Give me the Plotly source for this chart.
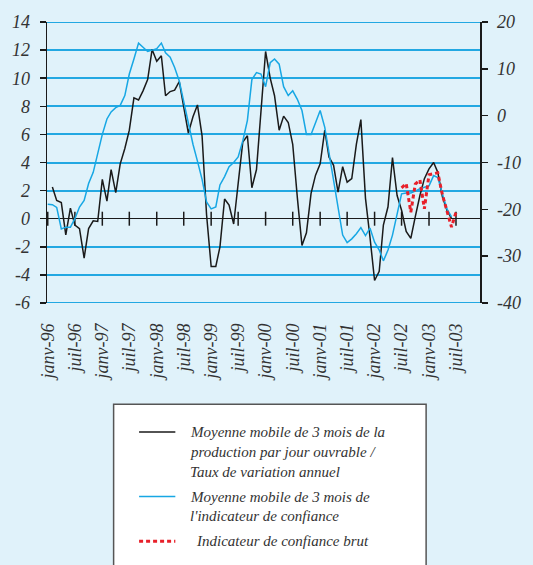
import pandas as pd
import plotly.graph_objects as go

# ---------------- data ----------------
months = pd.date_range("1996-01-01", periods=91, freq="MS")  # janv-96 .. juil-03

# Production (3-month moving average, annual growth rate, %), Feb-96 .. Jun-03 -> left axis
production = [
    2.26, 1.3, 1.15, -1.15, 0.75, -0.45, -0.7, -2.8, -0.7, -0.15, -0.2,
    2.8, 1.25, 3.5, 1.85, 3.9, 5.0, 6.3, 8.6, 8.45, 9.1, 9.9, 12.05,
    11.2, 11.6, 8.75, 9.05, 9.15, 9.75, 7.9, 6.1, 7.25, 8.1, 5.9, 0.3,
    -3.4, -3.4, -2.0, 1.4, 0.97, -0.38, 2.5, 5.45, 5.9, 2.2, 3.5, 7.7,
    11.9, 10.0, 8.75, 6.3, 7.3, 6.85, 5.3, 1.5, -1.9, -1.0, 1.8, 3.1,
    3.9, 6.3, 4.4, 3.8, 1.9, 3.7, 2.6, 2.85, 5.3, 7.05, 1.45, -1.3,
    -4.4, -3.75, -0.45, 0.85, 4.35, 1.65, 0.6, -0.9, -1.4, 0.15, 1.65,
    2.85, 3.55, 4.0, 3.3, 1.55, 0.6, 0.0,
]
production_dates = months[1:1 + len(production)]

# Confidence indicator, 3-month moving average, Jan-96 .. Jun-03 -> right axis
confidence_ma = [
    -18.9, -19.0, -19.6, -24.2, -23.8, -23.8, -22.0, -19.5, -18.1, -14.5,
    -12.1, -7.8, -4.0, -0.7, 0.8, 1.7, 2.2, 4.3, 8.9, 12.1,
    15.5, 14.6, 13.7, 14.0, 14.3, 15.5, 13.4, 12.5, 10.3, 7.4,
    2.9, -1.9, -6.1, -9.7, -13.6, -18.4, -19.9, -19.5, -14.8, -13.0,
    -10.9, -10.0, -8.8, -5.4, -1.0, 7.7, 9.2, 8.9, 6.2, 11.3,
    12.1, 11.0, 6.2, 4.3, 5.3, 3.5, 1.1, -4.0, -4.0, -1.5,
    1.1, -2.5, -7.8, -14.5, -19.5, -25.5, -27.1, -26.3, -25.2, -23.9,
    -25.6, -24.0, -27.0, -28.7, -31.0, -28.7, -25.5, -21.3, -16.7, -16.5,
    -16.5, -16.1, -15.6, -15.3, -15.0, -12.8, -13.2, -16.7, -19.9, -21.6,
]
confidence_ma_dates = months[0:len(confidence_ma)]

# Raw confidence indicator, Jul-02 .. Jul-03 -> right axis
confidence_raw = [-15.4, -14.5, -20.6, -14.6, -13.7, -19.9, -12.6, -12.4,
                  -12.2, -16.9, -20.2, -23.8, -20.6]
confidence_raw_dates = months[78:78 + len(confidence_raw)]

# x tick labels
x_tick_dates = months[::6]
x_tick_labels = ["janv-96", "juil-96", "janv-97", "juil-97", "janv-98", "juil-98",
                 "janv-99", "juil-99", "janv-00", "juil-00", "janv-01", "juil-01",
                 "janv-02", "juil-02", "janv-03", "juil-03"]

left_ticks = [14, 12, 10, 8, 6, 4, 2, 0, -2, -4, -6]
left_labels = ["14", "12", "10", "8", "6", "4", "2", "0", "-2", "-4", "-6"]
right_ticks = [20, 10, 0, -10, -20, -30, -40]
right_labels = ["20", "10", "0", "-10", "-20", "-30", "-40"]

legend_names = [
    ["Moyenne mobile de 3 mois de la", "production par jour ouvrable /",
     "Taux de variation annuel"],
    ["Moyenne mobile de 3 mois de", "l'indicateur de confiance"],
    ["Indicateur de confiance brut"],
]

# ---------------- style ----------------
BG = "#e0f2fa"
GRID = "#22a8e2"
BLUE = "#17a7e4"
BLACK = "#1a1a1a"
RED = "#e8202a"
TXT = "#333333"
FONT = "Liberation Serif"

W, H = 533, 565
L, R, T, B = 46, 45, 20, 262
PW, PH = W - L - R, H - T - B


def px(x):
    return (x - L) / PW


def py(y):
    return (H - B - y) / PH


fig = go.Figure()

fig.add_trace(go.Scatter(
    x=production_dates, y=production, mode="lines",
    line=dict(color=BLACK, width=1.5), yaxis="y", hoverinfo="skip",
    showlegend=False))

fig.add_trace(go.Scatter(
    x=confidence_ma_dates, y=confidence_ma, mode="lines",
    line=dict(color=BLUE, width=1.5), yaxis="y2", hoverinfo="skip",
    showlegend=False))

fig.add_trace(go.Scatter(
    x=confidence_raw_dates, y=confidence_raw, mode="lines",
    line=dict(color=RED, width=3, dash="4px,3px"), yaxis="y2",
    hoverinfo="skip", showlegend=False))

# tick marks on the zero line
fig.add_trace(go.Scatter(
    x=x_tick_dates, y=[0] * len(x_tick_dates), mode="markers",
    marker=dict(symbol="line-ns", size=10, line=dict(color=BLACK, width=1.5)),
    yaxis="y", hoverinfo="skip", showlegend=False, cliponaxis=False))

fig.update_layout(
    width=W, height=H,
    margin=dict(l=L, r=R, t=T, b=B),
    paper_bgcolor=BG, plot_bgcolor=BG,
    showlegend=False, hovermode=False,
    xaxis=dict(
        type="date", range=["1995-12-27", "2003-12-09"],
        tickvals=x_tick_dates, ticktext=x_tick_labels, tickangle=-90,
        tickfont=dict(family=FONT, size=18, color=TXT, style="italic"),
        showgrid=False, zeroline=False, showline=False, ticks="",
        ticklabelstandoff=16,
    ),
    yaxis=dict(
        range=[-6, 14], tickvals=left_ticks, ticktext=left_labels,
        tickfont=dict(family=FONT, size=18, color=TXT, style="italic"),
        showgrid=True, gridcolor=GRID, gridwidth=2,
        zeroline=True, zerolinecolor=BLACK, zerolinewidth=1.5,
        showline=True, linecolor=BLACK, linewidth=1.5,
        ticks="outside", ticklen=6, tickcolor=BLACK, tickwidth=1.5,
        ticklabelstandoff=6,
    ),
    yaxis2=dict(
        range=[-40, 20], tickvals=right_ticks, ticktext=right_labels,
        overlaying="y", side="right",
        tickfont=dict(family=FONT, size=18, color=TXT, style="italic"),
        showgrid=False, zeroline=False,
        showline=True, linecolor=BLACK, linewidth=1.5,
        ticks="outside", ticklen=6, tickcolor=BLACK, tickwidth=1.5,
        ticklabelstandoff=6,
    ),
)

# ---------------- edge grid lines + legend box (drawn) ----------------
shapes = []
for yv in (left_ticks[0], left_ticks[-1]):
    shapes.append(dict(type="line", xref="paper", yref="y", x0=0, x1=1,
                       y0=yv, y1=yv, line=dict(color=GRID, width=2),
                       layer="below"))
shapes.append(dict(type="rect", xref="paper", yref="paper",
                   x0=px(114), x1=px(433), y0=py(575), y1=py(405),
                   fillcolor="white", line=dict(color="#555555", width=1.5),
                   layer="above"))
sym_y = [433, 498, 543]
sym_style = [dict(color=BLACK, width=1.5), dict(color=BLUE, width=1.5),
             dict(color=RED, width=3, dash="4px,3px")]
for yy, st in zip(sym_y, sym_style):
    shapes.append(dict(type="line", xref="paper", yref="paper",
                       x0=px(140), x1=px(177), y0=py(yy), y1=py(yy),
                       line=st, layer="above"))
fig.update_layout(shapes=shapes)

text_x = [190, 190, 196]
annots = []
for names, y0, tx in zip(legend_names, sym_y, text_x):
    for i, line in enumerate(names):
        annots.append(dict(
            xref="paper", yref="paper", x=px(tx), y=py(y0 + 20 * i),
            xanchor="left", yanchor="middle", showarrow=False, text=line,
            font=dict(family=FONT, size=15, color=TXT, style="italic")))
fig.update_layout(annotations=annots)

fig.write_html(
    "out.html",
    config={"displayModeBar": False, "staticPlot": True},
    post_script="document.body.style.margin='0px';"
                "document.body.style.overflow='hidden';"
                f"document.body.style.background='{BG}';",
)
